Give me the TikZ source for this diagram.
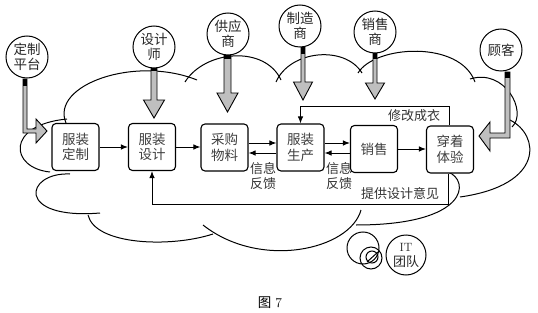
\documentclass[tikz,border=0pt]{standalone}
\usepackage{fontspec}
\newfontfamily\cjk{Noto Sans CJK SC}
\usetikzlibrary{arrows.meta}
\begin{document}
\begin{tikzpicture}[x=1pt,y=-1pt,
  cloudline/.style={line width=1pt},
  box/.style={draw, line width=1.1pt, rounded corners=4pt, minimum width=47pt, minimum height=47pt,
    fill=white, text=black!75, inner sep=0pt, align=center, font=\cjk\fontsize{13.5}{15.5}\selectfont},
  circ/.style={draw, circle, line width=1pt, minimum size=42pt, inner sep=0pt, fill=white,
    text=black!85, align=center, font=\cjk\fontsize{13.5}{15}\selectfont},
  lbl/.style={inner sep=0pt, align=center, text=black!80, font=\cjk\fontsize{13}{15}\selectfont},
  arr/.style={line width=1pt, -{Latex[length=7pt,width=5.5pt]}},
  tarrow/.style={draw=black, fill=black!25, line width=0.9pt, line join=miter},
  capfill/.style={fill=black}
]
\useasboundingbox (0,0) rectangle (538,313);

% cloud outline
\draw[cloudline] (66,123) .. controls (50,85) and (135,55) .. (197,80);
\draw[cloudline] (185,82) .. controls (205,50) and (265,45) .. (281,80);
\draw[cloudline] (276,82) .. controls (290,50) and (345,45) .. (362,73);
\draw[cloudline] (358,73) .. controls (375,45) and (460,40) .. (475,82);
\draw[cloudline] (470,79) .. controls (505,68) and (528,112) .. (512,127);
\draw[cloudline] (510,120) .. controls (540,135) and (545,185) .. (460,197);
\draw[cloudline] (448,172) .. controls (470,180) and (470,225) .. (356,225);
\draw[cloudline] (361,210) .. controls (350,250) and (260,270) .. (203,225);
\draw[cloudline] (213,234) .. controls (170,248) and (95,245) .. (88,215);
\draw[cloudline] (70,174) .. controls (25,172) and (15,220) .. (100,213);
\draw[cloudline] (50,172) .. controls (10,168) and (5,125) .. (67,119);

% thought bubbles
\draw[line width=1pt] (363,248) circle[radius=16pt];
\draw[line width=1pt] (371,258) circle[radius=11pt];
\draw[line width=1pt] (372,257) circle[radius=6pt];
\draw[line width=1pt] (367,262) -- (378,252);

% thick arrows
\draw[tarrow] (151,65) -- (151,100) -- (143.5,100) -- (154,118) -- (164.5,100) -- (157,100) -- (157,65) -- cycle;
\fill[capfill] (151,65) rectangle (157,71);
\draw[tarrow] (224,54) -- (224,93) -- (217,93) -- (227.5,112) -- (238,93) -- (231,93) -- (231,54) -- cycle;
\fill[capfill] (224,54) rectangle (231,59);
\draw[tarrow] (301,47) -- (301,82) -- (293.5,82) -- (303,100) -- (312.5,82) -- (305,82) -- (305,47) -- cycle;
\fill[capfill] (301,47) rectangle (305,54);
\draw[tarrow] (373,53) -- (373,83) -- (365.5,83) -- (375,99) -- (384.5,83) -- (377,83) -- (377,53) -- cycle;
\fill[capfill] (373,53) rectangle (377,59);
\draw[tarrow] (23,79) -- (23,133) -- (36,133) -- (36,143) -- (47,131) -- (36,119) -- (36,129) -- (27,129) -- (27,79) -- cycle;
\fill[capfill] (23,79) rectangle (27,86);
\draw[tarrow] (510,72) -- (510,138) -- (490,138) -- (490,151) -- (479,136) -- (490,122) -- (490,133) -- (505,133) -- (505,72) -- cycle;
\fill[capfill] (505,72) rectangle (510,78);

% circles
\node[circ] (c1) at (27,57) {定制\\平台};
\node[circ] (c2) at (154,47) {设计\\师};
\node[circ] (c3) at (228,34) {供应\\商};
\node[circ] (c4) at (300,26) {制造\\商};
\node[circ] (c5) at (375,32) {销售\\商};
\node[circ] (c6) at (501,50) {顾客};
\node[circ, minimum size=40pt, font=\fontsize{12}{15}\selectfont] (c7) at (406,255) {IT\\{\cjk\fontsize{13}{15}\selectfont 团队}};

% boxes
\node[box] (b1) at (75.5,147) {服装\\定制};
\node[box] (b2) at (152,147) {服装\\设计};
\node[box] (b3) at (224.5,147.5) {采购\\物料};
\node[box] (b4) at (300.5,147.5) {服装\\生产};
\node[box] (b5) at (374,149) {销售};
\node[box] (b6) at (450,149.5) {穿着\\体验};

% connectors
\draw[arr] (b1.east) -- (b1.east -| b2.west);
\draw[arr] (b2.east) -- (b2.east -| b3.west);
\draw[arr] ([yshift=4.5pt]b3.east) -- ([yshift=4.5pt]b3.east -| b4.west);
\draw[arr] ([yshift=-5.5pt]b3.east -| b4.west) -- ([yshift=-5.5pt]b3.east);
\draw[arr] ([yshift=4.5pt]b4.east) -- ([yshift=4.5pt]b4.east -| b5.west);
\draw[arr] ([yshift=-5.5pt]b4.east -| b5.west) -- ([yshift=-5.5pt]b4.east);
\draw[arr] (b5.east) -- (b5.east -| b6.west);
\draw[arr] ([xshift=-1pt]b6.north) -- ++(0,-19) -| (b4.north);
\draw[arr] ([xshift=-2pt]b6.south) -- ++(0,30.5) -| (b2.south);

% labels
\node[lbl] (l1) at (414,116) {修改成衣};
\node[lbl] (l2) at (400,194) {提供设计意见};
\node[lbl] (l3) at (263,176) {信息\\反馈};
\node[lbl] (l4) at (339,176) {信息\\反馈};

% caption
\node[inner sep=0pt, font=\fontsize{13.5}{15}\selectfont] (cap) at (270,303) {{\cjk 图}\hspace{4pt}7};
\end{tikzpicture}
\end{document}
